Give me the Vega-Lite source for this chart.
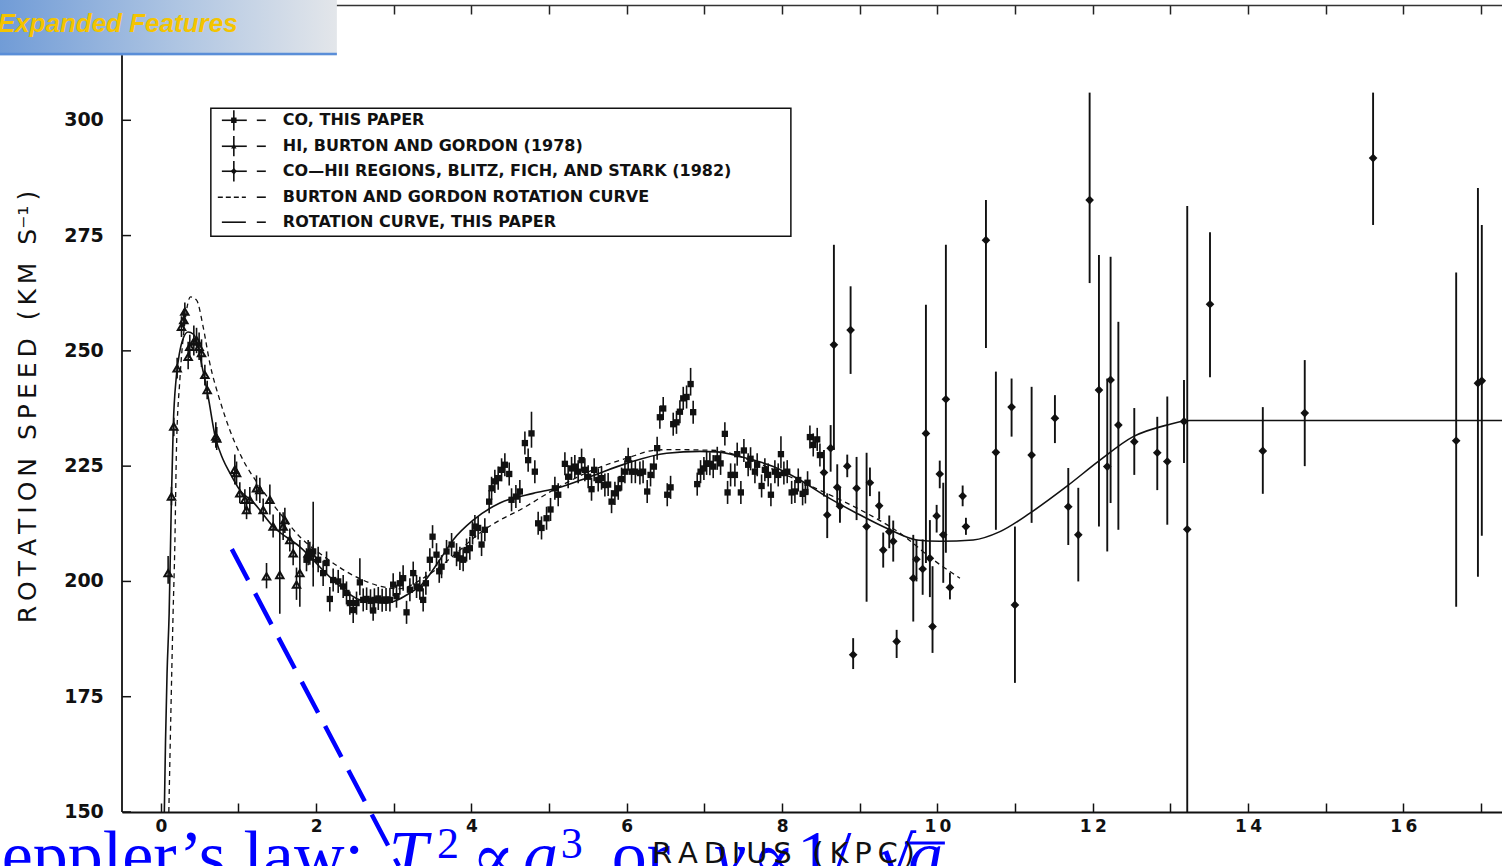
{
  "$schema": "https://vega.github.io/schema/vega-lite/v6.json",
  "width": 1380,
  "height": 807,
  "autosize": {"type": "none"},
  "padding": {"left": 122, "top": 5, "right": 0, "bottom": 54},
  "background": "white",
  "config": {"view": {"stroke": null}},
  "resolve": {"axis": {"x": "independent"}},
  "datasets": {
    "yticks": [{"speed": 150}, {"speed": 175}, {"speed": 200}, {"speed": 225}, {"speed": 250}, {"speed": 275}, {"speed": 300}],
    "solid": [
      {"radius": 0.045, "speed": 150}, {"radius": 0.06, "speed": 165}, {"radius": 0.08, "speed": 180},
      {"radius": 0.107, "speed": 193}, {"radius": 0.137, "speed": 218.4}, {"radius": 0.16, "speed": 233.6},
      {"radius": 0.2, "speed": 244.5}, {"radius": 0.24, "speed": 249.5}, {"radius": 0.29, "speed": 252.8},
      {"radius": 0.35, "speed": 254.1}, {"radius": 0.42, "speed": 253.6}, {"radius": 0.48, "speed": 251},
      {"radius": 0.52, "speed": 247.5}, {"radius": 0.57, "speed": 243.5}, {"radius": 0.61, "speed": 240},
      {"radius": 0.7, "speed": 231.4}, {"radius": 0.8, "speed": 226.5}, {"radius": 0.89, "speed": 223.5},
      {"radius": 1.017, "speed": 219.8}, {"radius": 1.189, "speed": 217.2}, {"radius": 1.446, "speed": 211.9},
      {"radius": 1.79, "speed": 207.5}, {"radius": 2.219, "speed": 200.3}, {"radius": 2.563, "speed": 196},
      {"radius": 2.907, "speed": 195.3}, {"radius": 3.035, "speed": 195.9}, {"radius": 3.207, "speed": 197.5},
      {"radius": 3.335, "speed": 198.9}, {"radius": 3.593, "speed": 204.7}, {"radius": 3.764, "speed": 209},
      {"radius": 4.022, "speed": 213.3}, {"radius": 4.366, "speed": 217}, {"radius": 4.795, "speed": 219.1},
      {"radius": 5.096, "speed": 220.2}, {"radius": 5.525, "speed": 222.7}, {"radius": 5.997, "speed": 225.6},
      {"radius": 6.513, "speed": 227.8}, {"radius": 6.942, "speed": 228.2}, {"radius": 7.156, "speed": 228.1},
      {"radius": 7.457, "speed": 227.1}, {"radius": 7.886, "speed": 224.9}, {"radius": 8.229, "speed": 222},
      {"radius": 8.573, "speed": 218.4}, {"radius": 8.959, "speed": 214.8}, {"radius": 9.388, "speed": 211.2},
      {"radius": 9.732, "speed": 209}, {"radius": 10.032, "speed": 208.7}, {"radius": 10.461, "speed": 209},
      {"radius": 10.805, "speed": 210.8}, {"radius": 11.191, "speed": 214.8}, {"radius": 11.664, "speed": 220.6},
      {"radius": 12.093, "speed": 226.3}, {"radius": 12.521, "speed": 231.4}, {"radius": 12.951, "speed": 233.9},
      {"radius": 13.25, "speed": 234.9}, {"radius": 17.27, "speed": 234.9}
    ],
    "dashed": [
      {"radius": 0.103, "speed": 150}, {"radius": 0.13, "speed": 172}, {"radius": 0.158, "speed": 193.2},
      {"radius": 0.18, "speed": 207.6}, {"radius": 0.202, "speed": 229.2}, {"radius": 0.245, "speed": 243.7},
      {"radius": 0.309, "speed": 256}, {"radius": 0.382, "speed": 261.7}, {"radius": 0.46, "speed": 261},
      {"radius": 0.545, "speed": 255.2}, {"radius": 0.631, "speed": 247.3}, {"radius": 0.76, "speed": 239.3},
      {"radius": 0.889, "speed": 232.8}, {"radius": 1.06, "speed": 226.3}, {"radius": 1.275, "speed": 220.6},
      {"radius": 1.533, "speed": 214.8}, {"radius": 1.79, "speed": 209.7}, {"radius": 2.134, "speed": 205},
      {"radius": 2.477, "speed": 201.3}, {"radius": 2.82, "speed": 199}, {"radius": 3.05, "speed": 198.4},
      {"radius": 3.2, "speed": 199}, {"radius": 3.35, "speed": 200.4}, {"radius": 3.593, "speed": 203.2},
      {"radius": 3.851, "speed": 206.8}, {"radius": 4.108, "speed": 210.5}, {"radius": 4.366, "speed": 213.3},
      {"radius": 4.623, "speed": 215.5}, {"radius": 5.052, "speed": 219.8}, {"radius": 5.567, "speed": 224.2},
      {"radius": 5.997, "speed": 226.7}, {"radius": 6.384, "speed": 228.5}, {"radius": 6.6, "speed": 228.6},
      {"radius": 6.942, "speed": 228.5}, {"radius": 7.156, "speed": 228.4}, {"radius": 7.585, "speed": 226.3},
      {"radius": 8.1, "speed": 222.7}, {"radius": 8.573, "speed": 219.1}, {"radius": 9.088, "speed": 214.8},
      {"radius": 9.517, "speed": 210.5}, {"radius": 9.946, "speed": 204.7}, {"radius": 10.29, "speed": 200.7}
    ],
    "co": [
      {"radius": 1.876, "speed": 204.7, "low": 202.2, "high": 207.2}, {"radius": 1.919, "speed": 206.1, "low": 203.6, "high": 208.6},
      {"radius": 1.962, "speed": 206.5, "low": 198.9, "high": 217.3}, {"radius": 2.026, "speed": 204.7, "low": 202.0, "high": 207.5},
      {"radius": 2.09, "speed": 201.8, "low": 199.0, "high": 204.5}, {"radius": 2.134, "speed": 204.0, "low": 201.5, "high": 206.5},
      {"radius": 2.176, "speed": 196.2, "low": 193.5, "high": 198.8}, {"radius": 2.219, "speed": 200.3, "low": 197.8, "high": 202.8},
      {"radius": 2.284, "speed": 200.0, "low": 197.5, "high": 202.5}, {"radius": 2.348, "speed": 198.9, "low": 196.4, "high": 201.4},
      {"radius": 2.391, "speed": 197.5, "low": 195.0, "high": 200.0}, {"radius": 2.434, "speed": 195.3, "low": 192.8, "high": 197.8},
      {"radius": 2.477, "speed": 193.8, "low": 191.0, "high": 196.5}, {"radius": 2.52, "speed": 195.3, "low": 192.8, "high": 197.8},
      {"radius": 2.563, "speed": 199.8, "low": 197.0, "high": 205.0}, {"radius": 2.606, "speed": 196.0, "low": 193.5, "high": 198.5},
      {"radius": 2.65, "speed": 196.2, "low": 193.8, "high": 198.7}, {"radius": 2.7, "speed": 195.8, "low": 193.3, "high": 198.3},
      {"radius": 2.734, "speed": 193.7, "low": 191.5, "high": 196.0}, {"radius": 2.75, "speed": 196.0, "low": 193.5, "high": 198.5},
      {"radius": 2.8, "speed": 196.3, "low": 193.8, "high": 198.8}, {"radius": 2.85, "speed": 195.9, "low": 193.4, "high": 198.4},
      {"radius": 2.9, "speed": 196.1, "low": 193.6, "high": 198.6}, {"radius": 2.95, "speed": 196.0, "low": 193.5, "high": 198.5},
      {"radius": 2.992, "speed": 199.3, "low": 196.8, "high": 201.8}, {"radius": 3.035, "speed": 196.8, "low": 194.3, "high": 199.3},
      {"radius": 3.078, "speed": 199.6, "low": 197.1, "high": 202.1}, {"radius": 3.12, "speed": 200.7, "low": 198.0, "high": 203.5},
      {"radius": 3.164, "speed": 193.3, "low": 190.8, "high": 195.8}, {"radius": 3.207, "speed": 198.2, "low": 195.7, "high": 200.7},
      {"radius": 3.25, "speed": 201.8, "low": 199.3, "high": 204.3}, {"radius": 3.293, "speed": 198.9, "low": 196.4, "high": 201.4},
      {"radius": 3.335, "speed": 198.5, "low": 196.0, "high": 201.0}, {"radius": 3.378, "speed": 196.0, "low": 193.5, "high": 198.5},
      {"radius": 3.413, "speed": 199.6, "low": 197.1, "high": 202.1}, {"radius": 3.464, "speed": 204.7, "low": 202.2, "high": 207.2},
      {"radius": 3.499, "speed": 209.7, "low": 207.2, "high": 212.2}, {"radius": 3.55, "speed": 205.8, "low": 203.3, "high": 208.3},
      {"radius": 3.585, "speed": 202.2, "low": 199.7, "high": 204.7}, {"radius": 3.615, "speed": 203.2, "low": 200.7, "high": 205.7},
      {"radius": 3.679, "speed": 206.5, "low": 204.0, "high": 209.0}, {"radius": 3.744, "speed": 208.0, "low": 205.5, "high": 210.5},
      {"radius": 3.808, "speed": 205.8, "low": 203.3, "high": 208.3}, {"radius": 3.851, "speed": 205.0, "low": 202.5, "high": 207.5},
      {"radius": 3.893, "speed": 204.7, "low": 202.2, "high": 207.2}, {"radius": 3.937, "speed": 206.8, "low": 204.3, "high": 209.3},
      {"radius": 3.979, "speed": 207.2, "low": 204.7, "high": 209.7}, {"radius": 4.014, "speed": 210.5, "low": 208.0, "high": 213.0},
      {"radius": 4.044, "speed": 211.9, "low": 209.4, "high": 214.4}, {"radius": 4.086, "speed": 211.6, "low": 209.1, "high": 214.1},
      {"radius": 4.13, "speed": 208.0, "low": 205.5, "high": 210.5}, {"radius": 4.172, "speed": 211.2, "low": 208.7, "high": 213.7},
      {"radius": 4.228, "speed": 217.3, "low": 214.8, "high": 219.8}, {"radius": 4.259, "speed": 220.2, "low": 217.7, "high": 222.7},
      {"radius": 4.301, "speed": 221.7, "low": 219.2, "high": 224.2}, {"radius": 4.344, "speed": 222.4, "low": 219.9, "high": 224.9},
      {"radius": 4.388, "speed": 224.2, "low": 221.7, "high": 226.7}, {"radius": 4.43, "speed": 225.3, "low": 222.8, "high": 227.8},
      {"radius": 4.486, "speed": 223.3, "low": 220.8, "high": 225.8}, {"radius": 4.516, "speed": 217.7, "low": 215.2, "high": 220.2},
      {"radius": 4.572, "speed": 218.4, "low": 215.9, "high": 220.9}, {"radius": 4.623, "speed": 219.5, "low": 217.0, "high": 222.0},
      {"radius": 4.688, "speed": 230.0, "low": 227.5, "high": 232.5}, {"radius": 4.73, "speed": 226.3, "low": 223.8, "high": 228.8},
      {"radius": 4.773, "speed": 232.1, "low": 229.0, "high": 236.8}, {"radius": 4.816, "speed": 223.8, "low": 221.3, "high": 226.3},
      {"radius": 4.859, "speed": 212.6, "low": 210.1, "high": 215.1}, {"radius": 4.902, "speed": 211.6, "low": 209.1, "high": 214.1},
      {"radius": 4.967, "speed": 213.7, "low": 211.2, "high": 216.2}, {"radius": 5.018, "speed": 215.6, "low": 213.1, "high": 218.1},
      {"radius": 5.074, "speed": 220.2, "low": 217.7, "high": 222.7}, {"radius": 5.117, "speed": 218.8, "low": 216.3, "high": 221.3},
      {"radius": 5.203, "speed": 225.5, "low": 223.0, "high": 228.0}, {"radius": 5.245, "speed": 222.7, "low": 220.2, "high": 225.2},
      {"radius": 5.289, "speed": 224.5, "low": 222.0, "high": 227.0}, {"radius": 5.331, "speed": 224.9, "low": 222.4, "high": 227.4},
      {"radius": 5.374, "speed": 223.8, "low": 221.3, "high": 226.3}, {"radius": 5.418, "speed": 226.3, "low": 223.8, "high": 228.8},
      {"radius": 5.46, "speed": 224.2, "low": 221.7, "high": 226.7}, {"radius": 5.503, "speed": 222.7, "low": 220.2, "high": 225.2},
      {"radius": 5.546, "speed": 220.0, "low": 217.5, "high": 222.5}, {"radius": 5.58, "speed": 224.2, "low": 221.7, "high": 226.7},
      {"radius": 5.632, "speed": 222.0, "low": 219.5, "high": 224.5}, {"radius": 5.675, "speed": 222.4, "low": 219.9, "high": 224.9},
      {"radius": 5.718, "speed": 220.9, "low": 218.4, "high": 223.4}, {"radius": 5.76, "speed": 221.0, "low": 218.5, "high": 223.5},
      {"radius": 5.804, "speed": 217.3, "low": 214.8, "high": 219.8}, {"radius": 5.847, "speed": 219.1, "low": 216.6, "high": 221.6},
      {"radius": 5.89, "speed": 220.2, "low": 217.7, "high": 222.7}, {"radius": 5.933, "speed": 222.2, "low": 219.7, "high": 224.7},
      {"radius": 5.976, "speed": 223.8, "low": 221.3, "high": 226.3}, {"radius": 6.018, "speed": 226.5, "low": 224.0, "high": 229.0},
      {"radius": 6.062, "speed": 223.8, "low": 221.3, "high": 226.3}, {"radius": 6.11, "speed": 223.8, "low": 221.3, "high": 226.3},
      {"radius": 6.169, "speed": 223.5, "low": 221.0, "high": 226.0}, {"radius": 6.21, "speed": 223.8, "low": 221.3, "high": 226.3},
      {"radius": 6.263, "speed": 219.5, "low": 217.0, "high": 222.0}, {"radius": 6.306, "speed": 223.1, "low": 220.6, "high": 225.6},
      {"radius": 6.349, "speed": 224.9, "low": 222.4, "high": 227.4}, {"radius": 6.391, "speed": 228.9, "low": 226.4, "high": 231.4},
      {"radius": 6.426, "speed": 235.6, "low": 233.1, "high": 238.1}, {"radius": 6.469, "speed": 237.5, "low": 235.0, "high": 240.0},
      {"radius": 6.521, "speed": 218.8, "low": 216.3, "high": 221.3}, {"radius": 6.564, "speed": 220.4, "low": 217.9, "high": 222.9},
      {"radius": 6.598, "speed": 234.1, "low": 231.6, "high": 236.6}, {"radius": 6.64, "speed": 234.5, "low": 232.0, "high": 237.0},
      {"radius": 6.684, "speed": 236.8, "low": 234.3, "high": 239.3}, {"radius": 6.727, "speed": 239.7, "low": 237.2, "high": 242.2},
      {"radius": 6.77, "speed": 240.0, "low": 237.5, "high": 242.5}, {"radius": 6.822, "speed": 242.8, "low": 240.3, "high": 246.3},
      {"radius": 6.855, "speed": 236.7, "low": 234.2, "high": 239.2}, {"radius": 6.907, "speed": 221.1, "low": 218.6, "high": 223.6},
      {"radius": 6.95, "speed": 223.8, "low": 221.3, "high": 226.3}, {"radius": 6.993, "speed": 224.5, "low": 222.0, "high": 227.0},
      {"radius": 7.028, "speed": 225.6, "low": 223.1, "high": 228.1}, {"radius": 7.07, "speed": 225.5, "low": 223.0, "high": 228.0},
      {"radius": 7.113, "speed": 224.9, "low": 222.4, "high": 227.4}, {"radius": 7.165, "speed": 226.7, "low": 224.2, "high": 229.2},
      {"radius": 7.208, "speed": 225.6, "low": 223.1, "high": 228.1}, {"radius": 7.263, "speed": 232.0, "low": 229.5, "high": 234.5},
      {"radius": 7.298, "speed": 219.3, "low": 216.8, "high": 221.8}, {"radius": 7.337, "speed": 223.1, "low": 220.6, "high": 225.6},
      {"radius": 7.392, "speed": 223.1, "low": 220.6, "high": 225.6}, {"radius": 7.422, "speed": 227.6, "low": 225.1, "high": 230.1},
      {"radius": 7.469, "speed": 219.3, "low": 216.8, "high": 221.8}, {"radius": 7.508, "speed": 228.4, "low": 225.9, "high": 230.9},
      {"radius": 7.563, "speed": 225.3, "low": 222.8, "high": 227.8}, {"radius": 7.594, "speed": 226.6, "low": 224.1, "high": 229.1},
      {"radius": 7.65, "speed": 223.8, "low": 221.3, "high": 226.3}, {"radius": 7.679, "speed": 225.3, "low": 222.8, "high": 227.8},
      {"radius": 7.736, "speed": 220.7, "low": 218.2, "high": 223.2}, {"radius": 7.778, "speed": 224.2, "low": 221.7, "high": 226.7},
      {"radius": 7.821, "speed": 223.1, "low": 220.6, "high": 225.6}, {"radius": 7.856, "speed": 218.8, "low": 216.3, "high": 221.3},
      {"radius": 7.907, "speed": 223.8, "low": 221.3, "high": 226.3}, {"radius": 7.95, "speed": 223.1, "low": 220.6, "high": 225.6},
      {"radius": 7.985, "speed": 227.6, "low": 224.5, "high": 231.5}, {"radius": 8.023, "speed": 223.5, "low": 221.0, "high": 226.0},
      {"radius": 8.066, "speed": 223.8, "low": 221.3, "high": 226.3}, {"radius": 8.123, "speed": 219.3, "low": 216.8, "high": 221.8},
      {"radius": 8.165, "speed": 219.5, "low": 217.0, "high": 222.0}, {"radius": 8.208, "speed": 222.0, "low": 219.5, "high": 224.5},
      {"radius": 8.264, "speed": 219.0, "low": 216.5, "high": 221.5}, {"radius": 8.3, "speed": 219.4, "low": 216.9, "high": 221.9},
      {"radius": 8.328, "speed": 221.4, "low": 218.9, "high": 223.9}, {"radius": 8.358, "speed": 231.3, "low": 228.8, "high": 233.8},
      {"radius": 8.401, "speed": 229.6, "low": 227.1, "high": 232.1}, {"radius": 8.452, "speed": 230.8, "low": 228.3, "high": 233.3},
      {"radius": 8.487, "speed": 227.4, "low": 224.9, "high": 229.9}
    ],
    "hi": [
      {"radius": 0.094, "speed": 201.8, "low": 199.5, "high": 205.5}, {"radius": 0.137, "speed": 218.4, "low": 216.5, "high": 220.5},
      {"radius": 0.167, "speed": 233.6, "low": 231.5, "high": 235.5}, {"radius": 0.21, "speed": 246.2, "low": 244.0, "high": 248.5},
      {"radius": 0.266, "speed": 255.2, "low": 253.0, "high": 257.5}, {"radius": 0.296, "speed": 256.7, "low": 254.5, "high": 259.0},
      {"radius": 0.309, "speed": 258.5, "low": 256.0, "high": 260.5}, {"radius": 0.352, "speed": 248.7, "low": 246.0, "high": 252.0},
      {"radius": 0.373, "speed": 250.9, "low": 248.5, "high": 253.5}, {"radius": 0.425, "speed": 252.0, "low": 249.0, "high": 255.5},
      {"radius": 0.46, "speed": 252.3, "low": 249.5, "high": 255.0}, {"radius": 0.493, "speed": 250.9, "low": 248.0, "high": 254.0},
      {"radius": 0.524, "speed": 249.5, "low": 246.5, "high": 252.5}, {"radius": 0.567, "speed": 244.8, "low": 242.5, "high": 247.0},
      {"radius": 0.597, "speed": 241.5, "low": 239.5, "high": 243.5}, {"radius": 0.708, "speed": 231.4, "low": 229.0, "high": 234.5},
      {"radius": 0.72, "speed": 231.0, "low": 228.5, "high": 233.5}, {"radius": 0.953, "speed": 224.2, "low": 221.0, "high": 227.5},
      {"radius": 0.975, "speed": 223.5, "low": 221.0, "high": 226.0}, {"radius": 1.017, "speed": 219.1, "low": 217.0, "high": 221.5},
      {"radius": 1.082, "speed": 217.7, "low": 215.5, "high": 220.0}, {"radius": 1.104, "speed": 215.5, "low": 213.5, "high": 217.5},
      {"radius": 1.146, "speed": 217.7, "low": 215.0, "high": 220.5}, {"radius": 1.232, "speed": 220.2, "low": 217.5, "high": 223.0},
      {"radius": 1.275, "speed": 219.8, "low": 217.0, "high": 222.5}, {"radius": 1.318, "speed": 215.5, "low": 213.0, "high": 218.0},
      {"radius": 1.404, "speed": 217.7, "low": 214.5, "high": 221.0}, {"radius": 1.446, "speed": 211.9, "low": 209.5, "high": 214.5},
      {"radius": 1.575, "speed": 211.9, "low": 209.0, "high": 215.0}, {"radius": 1.597, "speed": 213.3, "low": 210.5, "high": 216.0},
      {"radius": 1.661, "speed": 209.0, "low": 206.5, "high": 211.5}, {"radius": 1.704, "speed": 206.1, "low": 203.5, "high": 208.5},
      {"radius": 1.361, "speed": 201.1, "low": 198.5, "high": 204.0}, {"radius": 1.532, "speed": 201.4, "low": 193.0, "high": 215.0},
      {"radius": 1.747, "speed": 199.3, "low": 196.0, "high": 203.0}, {"radius": 1.79, "speed": 201.8, "low": 194.5, "high": 209.0},
      {"radius": 1.897, "speed": 206.1, "low": 203.5, "high": 209.0}, {"radius": 1.962, "speed": 205.4, "low": 203.0, "high": 208.0}
    ],
    "hii": [
      {"radius": 8.539, "speed": 223.6, "low": 218.4, "high": 228.5}, {"radius": 8.581, "speed": 214.4, "low": 209.4, "high": 219.1},
      {"radius": 8.625, "speed": 228.9, "low": 223.8, "high": 233.9}, {"radius": 8.667, "speed": 251.3, "low": 228.5, "high": 273.0},
      {"radius": 8.71, "speed": 220.4, "low": 216.5, "high": 225.4}, {"radius": 8.745, "speed": 216.3, "low": 212.7, "high": 220.3},
      {"radius": 8.839, "speed": 225.0, "low": 222.6, "high": 227.5}, {"radius": 8.882, "speed": 254.5, "low": 245.0, "high": 264.0},
      {"radius": 8.915, "speed": 184.1, "low": 181.0, "high": 187.7}, {"radius": 8.959, "speed": 220.2, "low": 213.3, "high": 227.0},
      {"radius": 9.088, "speed": 211.9, "low": 195.6, "high": 227.9}, {"radius": 9.131, "speed": 221.4, "low": 218.5, "high": 224.7},
      {"radius": 9.25, "speed": 216.4, "low": 213.5, "high": 219.5}, {"radius": 9.302, "speed": 206.8, "low": 203.0, "high": 210.6},
      {"radius": 9.38, "speed": 210.8, "low": 207.2, "high": 214.3}, {"radius": 9.431, "speed": 208.7, "low": 204.3, "high": 213.2},
      {"radius": 9.475, "speed": 187.0, "low": 183.4, "high": 189.5}, {"radius": 9.689, "speed": 200.7, "low": 191.3, "high": 210.1},
      {"radius": 9.73, "speed": 204.8, "low": 200.0, "high": 209.1}, {"radius": 9.81, "speed": 202.7, "low": 197.1, "high": 209.1},
      {"radius": 9.852, "speed": 232.1, "low": 204.0, "high": 260.0}, {"radius": 9.903, "speed": 205.0, "low": 196.6, "high": 213.3},
      {"radius": 9.937, "speed": 190.2, "low": 184.5, "high": 203.3}, {"radius": 9.99, "speed": 214.2, "low": 210.6, "high": 216.6},
      {"radius": 10.03, "speed": 223.3, "low": 220.2, "high": 226.2}, {"radius": 10.075, "speed": 210.1, "low": 199.7, "high": 221.4},
      {"radius": 10.109, "speed": 239.5, "low": 206.2, "high": 273.0}, {"radius": 10.161, "speed": 198.7, "low": 196.1, "high": 201.9},
      {"radius": 10.325, "speed": 218.5, "low": 216.3, "high": 220.8}, {"radius": 10.367, "speed": 211.9, "low": 210.1, "high": 213.8},
      {"radius": 10.625, "speed": 274.0, "low": 250.6, "high": 282.7}, {"radius": 10.753, "speed": 228.0, "low": 211.2, "high": 245.5},
      {"radius": 10.955, "speed": 237.8, "low": 231.4, "high": 244.0}, {"radius": 10.998, "speed": 194.9, "low": 178.0, "high": 211.9},
      {"radius": 11.213, "speed": 227.4, "low": 212.7, "high": 242.2}, {"radius": 11.513, "speed": 235.4, "low": 230.0, "high": 240.4},
      {"radius": 11.685, "speed": 216.2, "low": 207.9, "high": 224.6}, {"radius": 11.814, "speed": 210.1, "low": 200.0, "high": 220.3},
      {"radius": 11.96, "speed": 282.7, "low": 264.7, "high": 306.0}, {"radius": 12.08, "speed": 241.5, "low": 211.9, "high": 270.8},
      {"radius": 12.187, "speed": 224.9, "low": 206.5, "high": 244.0}, {"radius": 12.23, "speed": 243.7, "low": 217.0, "high": 270.4},
      {"radius": 12.33, "speed": 233.9, "low": 211.2, "high": 256.3}, {"radius": 12.535, "speed": 230.3, "low": 223.1, "high": 237.6},
      {"radius": 12.831, "speed": 227.9, "low": 219.8, "high": 235.7}, {"radius": 12.96, "speed": 226.0, "low": 212.3, "high": 240.1},
      {"radius": 13.175, "speed": 234.7, "low": 225.7, "high": 243.7}, {"radius": 13.217, "speed": 211.3, "low": 150.0, "high": 281.4},
      {"radius": 13.51, "speed": 260.1, "low": 244.3, "high": 275.7}, {"radius": 14.19, "speed": 228.3, "low": 219.0, "high": 237.8},
      {"radius": 14.73, "speed": 236.5, "low": 225.0, "high": 248.0}, {"radius": 15.61, "speed": 291.8, "low": 277.3, "high": 306.0},
      {"radius": 16.68, "speed": 230.5, "low": 194.5, "high": 267.0}, {"radius": 16.96, "speed": 243.0, "low": 201.0, "high": 285.3},
      {"radius": 17.01, "speed": 243.5, "low": 209.9, "high": 277.3}
    ]
  },
  "layer": [
    {
      "data": {"name": "solid"},
      "mark": {"type": "line", "color": "#111", "strokeWidth": 1.6, "interpolate": "monotone"},
      "encoding": {
        "x": {
          "field": "radius", "type": "quantitative",
          "scale": {"domain": [-0.5, 17.27], "nice": false, "zero": false},
          "axis": {
            "orient": "bottom", "zindex": 1, "values": [0, 1, 2, 3, 4, 5, 6, 7, 8, 9, 10, 11, 12, 13, 14, 15, 16, 17],
            "labelExpr": "datum.value % 2 === 0 ? join(split(datum.label, ''), '\u2009') : ''",
            "grid": false, "tickSize": -9, "tickWidth": 1.5, "tickColor": "#111",
            "domainColor": "#111", "domainWidth": 2,
            "labelFont": "DejaVu Sans", "labelFontSize": 17, "labelFontWeight": "bold", "labelColor": "#111",
            "labelPadding": 15, "labelFlush": false, "labelOverlap": false,
            "title": "R\u2009A\u2009D\u2009I\u2009U\u2009S\u2009 \u2009(\u2009K\u2009P\u2009C\u2009)",
            "titleFont": "DejaVu Sans", "titleFontSize": 29, "titleFontWeight": "normal", "titleColor": "#111",
            "titleX": 661, "titleY": 50, "titleBaseline": "alphabetic", "titleAlign": "center"
          }
        },
        "y": {"field": "speed", "type": "quantitative", "scale": {"domain": [150, 325], "nice": false, "zero": false}, "axis": null}
      }
    },
    {
      "data": {"name": "dashed"},
      "mark": {"type": "line", "color": "#111", "strokeWidth": 1.3, "strokeDash": [5, 4], "interpolate": "monotone"},
      "encoding": {
        "x": {
          "field": "radius", "type": "quantitative",
          "scale": {"domain": [-0.5, 17.27], "nice": false, "zero": false},
          "axis": {
            "orient": "top", "values": [0, 1, 2, 3, 4, 5, 6, 7, 8, 9, 10, 11, 12, 13, 14, 15, 16, 17],
            "labels": false, "grid": false, "tickSize": -9, "tickWidth": 1.5, "tickColor": "#222",
            "domainColor": "#333", "domainWidth": 1.5, "title": null
          }
        },
        "y": {"field": "speed", "type": "quantitative", "scale": {"domain": [150, 325], "nice": false, "zero": false}, "axis": null}
      }
    },
    {
      "data": {"name": "yticks"},
      "mark": {"type": "rule", "color": "#111", "strokeWidth": 1.5},
      "encoding": {
        "x": {"datum": -0.5, "type": "quantitative", "scale": {"domain": [-0.5, 17.27], "nice": false, "zero": false}, "axis": null},
        "x2": {"datum": -0.384},
        "y": {"field": "speed", "type": "quantitative", "scale": {"domain": [150, 325], "nice": false, "zero": false}, "axis": null}
      }
    },
    {
      "data": {"name": "yticks"},
      "mark": {"type": "text", "align": "right", "baseline": "middle", "font": "DejaVu Sans", "fontSize": 19, "fontWeight": "bold", "color": "#111"},
      "encoding": {
        "x": {"datum": -0.734, "type": "quantitative", "axis": null},
        "y": {"field": "speed", "type": "quantitative", "axis": null},
        "text": {"field": "speed", "type": "quantitative", "format": "d"}
      }
    },
    {
      "data": {"name": "co"},
      "mark": {"type": "rule", "color": "#111", "strokeWidth": 1.6},
      "encoding": {
        "x": {"field": "radius", "type": "quantitative", "scale": {"domain": [-0.5, 17.27], "nice": false, "zero": false}, "axis": null},
        "y": {"field": "low", "type": "quantitative", "scale": {"domain": [150, 325], "nice": false, "zero": false}, "axis": null},
        "y2": {"field": "high"}
      }
    },
    {
      "data": {"name": "co"},
      "mark": {"type": "point", "shape": "square", "filled": true, "color": "#111", "size": 40, "opacity": 1},
      "encoding": {
        "x": {"field": "radius", "type": "quantitative", "scale": {"domain": [-0.5, 17.27], "nice": false, "zero": false}, "axis": null},
        "y": {"field": "speed", "type": "quantitative", "scale": {"domain": [150, 325], "nice": false, "zero": false}, "axis": null}
      }
    },
    {
      "data": {"name": "hi"},
      "mark": {"type": "rule", "color": "#111", "strokeWidth": 1.6},
      "encoding": {
        "x": {"field": "radius", "type": "quantitative", "scale": {"domain": [-0.5, 17.27], "nice": false, "zero": false}, "axis": null},
        "y": {"field": "low", "type": "quantitative", "scale": {"domain": [150, 325], "nice": false, "zero": false}, "axis": null},
        "y2": {"field": "high"}
      }
    },
    {
      "data": {"name": "hi"},
      "mark": {"type": "point", "shape": "triangle-up", "filled": false, "color": "#111", "strokeWidth": 2, "size": 55, "opacity": 1},
      "encoding": {
        "x": {"field": "radius", "type": "quantitative", "scale": {"domain": [-0.5, 17.27], "nice": false, "zero": false}, "axis": null},
        "y": {"field": "speed", "type": "quantitative", "scale": {"domain": [150, 325], "nice": false, "zero": false}, "axis": null}
      }
    },
    {
      "data": {"name": "hii"},
      "mark": {"type": "rule", "color": "#111", "strokeWidth": 1.9},
      "encoding": {
        "x": {"field": "radius", "type": "quantitative", "scale": {"domain": [-0.5, 17.27], "nice": false, "zero": false}, "axis": null},
        "y": {"field": "low", "type": "quantitative", "scale": {"domain": [150, 325], "nice": false, "zero": false}, "axis": null},
        "y2": {"field": "high"}
      }
    },
    {
      "data": {"name": "hii"},
      "mark": {"type": "point", "shape": "diamond", "filled": true, "color": "#111", "size": 75, "opacity": 1},
      "encoding": {
        "x": {"field": "radius", "type": "quantitative", "scale": {"domain": [-0.5, 17.27], "nice": false, "zero": false}, "axis": null},
        "y": {"field": "speed", "type": "quantitative", "scale": {"domain": [150, 325], "nice": false, "zero": false}, "axis": null}
      }
    },
    {
      "data": {"values": [{}]},
      "layer": [
        {"mark": {"type": "rule", "color": "#111", "strokeWidth": 1.8}, "encoding": {"x": {"datum": -0.5, "type": "quantitative", "axis": null}, "y": {"datum": 150, "type": "quantitative", "axis": null}, "y2": {"datum": 325}}},
        {"mark": {"type": "text", "text": "R\u2009O\u2009T\u2009A\u2009T\u2009I\u2009O\u2009N\u2009 \u2009S\u2009P\u2009E\u2009E\u2009D\u2009 \u2009(\u2009K\u2009M\u2009 \u2009S\u207b\u00b9\u2009)", "angle": 270, "align": "center", "baseline": "middle", "font": "DejaVu Sans", "fontSize": 25, "color": "#111"}, "encoding": {"x": {"datum": -1.713, "type": "quantitative", "axis": null}, "y": {"datum": 237.8, "type": "quantitative", "axis": null}}},
        {
          "mark": {"type": "rect", "fill": "white", "stroke": "#111", "strokeWidth": 1.5},
          "encoding": {
            "x": {"datum": 0.644, "type": "quantitative", "axis": null},
            "x2": {"datum": 8.113},
            "y": {"datum": 302.6, "type": "quantitative", "axis": null},
            "y2": {"datum": 274.85}
          }
        },
        {"mark": {"type": "rule", "color": "#111", "strokeWidth": 1.6}, "encoding": {"x": {"datum": 0.94, "type": "quantitative", "axis": null}, "y": {"datum": 297.8, "type": "quantitative", "axis": null}, "y2": {"datum": 302.2}}},
        {"mark": {"type": "rule", "color": "#111", "strokeWidth": 1.6}, "encoding": {"x": {"datum": 0.786, "type": "quantitative", "axis": null}, "x2": {"datum": 1.107}, "y": {"datum": 300.0, "type": "quantitative", "axis": null}}},
        {"mark": {"type": "point", "shape": "square", "filled": true, "color": "#111", "size": 30, "opacity": 1}, "encoding": {"x": {"datum": 0.94, "type": "quantitative", "axis": null}, "y": {"datum": 300.0, "type": "quantitative", "axis": null}}},
        {"mark": {"type": "rule", "color": "#111", "strokeWidth": 1.6}, "encoding": {"x": {"datum": 0.94, "type": "quantitative", "axis": null}, "y": {"datum": 292.2, "type": "quantitative", "axis": null}, "y2": {"datum": 296.6}}},
        {"mark": {"type": "rule", "color": "#111", "strokeWidth": 1.6}, "encoding": {"x": {"datum": 0.786, "type": "quantitative", "axis": null}, "x2": {"datum": 1.107}, "y": {"datum": 294.37, "type": "quantitative", "axis": null}}},
        {"mark": {"type": "point", "shape": "triangle-up", "filled": true, "color": "#111", "size": 30, "opacity": 1}, "encoding": {"x": {"datum": 0.94, "type": "quantitative", "axis": null}, "y": {"datum": 294.37, "type": "quantitative", "axis": null}}},
        {"mark": {"type": "rule", "color": "#111", "strokeWidth": 1.6}, "encoding": {"x": {"datum": 0.94, "type": "quantitative", "axis": null}, "y": {"datum": 286.75, "type": "quantitative", "axis": null}, "y2": {"datum": 291.15}}},
        {"mark": {"type": "rule", "color": "#111", "strokeWidth": 1.6}, "encoding": {"x": {"datum": 0.786, "type": "quantitative", "axis": null}, "x2": {"datum": 1.107}, "y": {"datum": 288.95, "type": "quantitative", "axis": null}}},
        {"mark": {"type": "point", "shape": "diamond", "filled": true, "color": "#111", "size": 40, "opacity": 1}, "encoding": {"x": {"datum": 0.94, "type": "quantitative", "axis": null}, "y": {"datum": 288.95, "type": "quantitative", "axis": null}}},
        {"mark": {"type": "rule", "color": "#111", "strokeWidth": 1.4, "strokeDash": [5, 3]}, "encoding": {"x": {"datum": 0.734, "type": "quantitative", "axis": null}, "x2": {"datum": 1.095}, "y": {"datum": 283.32, "type": "quantitative", "axis": null}}},
        {"mark": {"type": "rule", "color": "#111", "strokeWidth": 1.6}, "encoding": {"x": {"datum": 0.786, "type": "quantitative", "axis": null}, "x2": {"datum": 1.095}, "y": {"datum": 277.9, "type": "quantitative", "axis": null}}},
        {"mark": {"type": "rule", "color": "#111", "strokeWidth": 1.6}, "encoding": {"x": {"datum": 1.236, "type": "quantitative", "axis": null}, "x2": {"datum": 1.352}, "y": {"datum": 300.0, "type": "quantitative", "axis": null}}},
        {"mark": {"type": "rule", "color": "#111", "strokeWidth": 1.6}, "encoding": {"x": {"datum": 1.236, "type": "quantitative", "axis": null}, "x2": {"datum": 1.352}, "y": {"datum": 294.37, "type": "quantitative", "axis": null}}},
        {"mark": {"type": "rule", "color": "#111", "strokeWidth": 1.6}, "encoding": {"x": {"datum": 1.236, "type": "quantitative", "axis": null}, "x2": {"datum": 1.352}, "y": {"datum": 288.95, "type": "quantitative", "axis": null}}},
        {"mark": {"type": "rule", "color": "#111", "strokeWidth": 1.6}, "encoding": {"x": {"datum": 1.236, "type": "quantitative", "axis": null}, "x2": {"datum": 1.352}, "y": {"datum": 283.32, "type": "quantitative", "axis": null}}},
        {"mark": {"type": "rule", "color": "#111", "strokeWidth": 1.6}, "encoding": {"x": {"datum": 1.236, "type": "quantitative", "axis": null}, "x2": {"datum": 1.352}, "y": {"datum": 277.9, "type": "quantitative", "axis": null}}},
        {"mark": {"type": "text", "text": "CO, THIS PAPER", "align": "left", "baseline": "middle", "font": "DejaVu Sans", "fontSize": 16, "fontWeight": "bold", "color": "#111"}, "encoding": {"x": {"datum": 1.571, "type": "quantitative", "axis": null}, "y": {"datum": 300.0, "type": "quantitative", "axis": null}}},
        {"mark": {"type": "text", "text": "HI, BURTON AND GORDON (1978)", "align": "left", "baseline": "middle", "font": "DejaVu Sans", "fontSize": 16, "fontWeight": "bold", "color": "#111"}, "encoding": {"x": {"datum": 1.571, "type": "quantitative", "axis": null}, "y": {"datum": 294.37, "type": "quantitative", "axis": null}}},
        {"mark": {"type": "text", "text": "CO—HII REGIONS, BLITZ, FICH, AND STARK (1982)", "align": "left", "baseline": "middle", "font": "DejaVu Sans", "fontSize": 16, "fontWeight": "bold", "color": "#111"}, "encoding": {"x": {"datum": 1.571, "type": "quantitative", "axis": null}, "y": {"datum": 288.95, "type": "quantitative", "axis": null}}},
        {"mark": {"type": "text", "text": "BURTON AND GORDON ROTATION CURVE", "align": "left", "baseline": "middle", "font": "DejaVu Sans", "fontSize": 16, "fontWeight": "bold", "color": "#111"}, "encoding": {"x": {"datum": 1.571, "type": "quantitative", "axis": null}, "y": {"datum": 283.32, "type": "quantitative", "axis": null}}},
        {"mark": {"type": "text", "text": "ROTATION CURVE, THIS PAPER", "align": "left", "baseline": "middle", "font": "DejaVu Sans", "fontSize": 16, "fontWeight": "bold", "color": "#111"}, "encoding": {"x": {"datum": 1.571, "type": "quantitative", "axis": null}, "y": {"datum": 277.9, "type": "quantitative", "axis": null}}},
        {"mark": {"type": "rule", "color": "#0000ff", "strokeWidth": 4.5, "strokeDash": [35, 15]}, "encoding": {"x": {"datum": 0.914, "type": "quantitative", "axis": null}, "y": {"datum": 207.0, "type": "quantitative", "axis": null}, "x2": {"datum": 3.065}, "y2": {"datum": 138.3}}},
        {
          "mark": {"type": "rect", "fill": {"gradient": "linear", "x1": 0, "y1": 0, "x2": 1, "y2": 0, "stops": [{"offset": 0, "color": "#6896d5"}, {"offset": 0.55, "color": "#adc4e2"}, {"offset": 1, "color": "#e3e6ea"}]}},
          "encoding": {"x": {"datum": -2.4, "type": "quantitative", "axis": null}, "x2": {"datum": 2.267}, "y": {"datum": 314.08, "type": "quantitative", "axis": null}, "y2": {"datum": 328}}
        },
        {"mark": {"type": "rule", "color": "#5a8ed8", "strokeWidth": 2.5}, "encoding": {"x": {"datum": -2.4, "type": "quantitative", "axis": null}, "x2": {"datum": 2.267}, "y": {"datum": 314.4, "type": "quantitative", "axis": null}}},
        {"mark": {"type": "text", "text": "Expanded Features", "align": "left", "baseline": "alphabetic", "font": "Liberation Sans", "fontSize": 26, "fontWeight": "bold", "fontStyle": "italic", "color": "#f4c400"}, "encoding": {"x": {"datum": -2.1, "type": "quantitative", "axis": null}, "y": {"datum": 319.08, "type": "quantitative", "axis": null}}},
        {"mark": {"type": "text", "text": "Keppler’s law:", "align": "left", "baseline": "alphabetic", "font": "Liberation Serif", "fontSize": 70, "color": "#0000ff"}, "encoding": {"x": {"datum": -2.7, "type": "quantitative", "axis": null}, "y": {"datum": 135.46, "type": "quantitative", "axis": null}}},
        {"mark": {"type": "text", "text": "T", "align": "left", "baseline": "alphabetic", "font": "Liberation Serif", "fontStyle": "italic", "fontSize": 70, "color": "#0000ff"}, "encoding": {"x": {"datum": 2.936, "type": "quantitative", "axis": null}, "y": {"datum": 135.46, "type": "quantitative", "axis": null}}},
        {"mark": {"type": "text", "text": "2", "align": "left", "baseline": "alphabetic", "font": "Liberation Serif", "fontSize": 44, "color": "#0000ff"}, "encoding": {"x": {"datum": 3.555, "type": "quantitative", "axis": null}, "y": {"datum": 140.0, "type": "quantitative", "axis": null}}},
        {"mark": {"type": "text", "text": "∝", "align": "left", "baseline": "alphabetic", "font": "DejaVu Serif", "fontSize": 64, "color": "#0000ff"}, "encoding": {"x": {"datum": 4.005, "type": "quantitative", "axis": null}, "y": {"datum": 135.46, "type": "quantitative", "axis": null}}},
        {"mark": {"type": "text", "text": "a", "align": "left", "baseline": "alphabetic", "font": "Liberation Serif", "fontStyle": "italic", "fontSize": 70, "color": "#0000ff"}, "encoding": {"x": {"datum": 4.662, "type": "quantitative", "axis": null}, "y": {"datum": 135.46, "type": "quantitative", "axis": null}}},
        {"mark": {"type": "text", "text": "3", "align": "left", "baseline": "alphabetic", "font": "Liberation Serif", "fontSize": 44, "color": "#0000ff"}, "encoding": {"x": {"datum": 5.151, "type": "quantitative", "axis": null}, "y": {"datum": 140.0, "type": "quantitative", "axis": null}}},
        {"mark": {"type": "text", "text": "or", "align": "left", "baseline": "alphabetic", "font": "Liberation Serif", "fontSize": 70, "color": "#0000ff"}, "encoding": {"x": {"datum": 5.808, "type": "quantitative", "axis": null}, "y": {"datum": 135.46, "type": "quantitative", "axis": null}}},
        {"mark": {"type": "text", "text": "v", "align": "left", "baseline": "alphabetic", "font": "Liberation Serif", "fontStyle": "italic", "fontSize": 70, "color": "#0000ff"}, "encoding": {"x": {"datum": 7.122, "type": "quantitative", "axis": null}, "y": {"datum": 135.46, "type": "quantitative", "axis": null}}},
        {"mark": {"type": "text", "text": "∝", "align": "left", "baseline": "alphabetic", "font": "DejaVu Serif", "fontSize": 64, "color": "#0000ff"}, "encoding": {"x": {"datum": 7.611, "type": "quantitative", "axis": null}, "y": {"datum": 135.46, "type": "quantitative", "axis": null}}},
        {"mark": {"type": "text", "text": "1/", "align": "left", "baseline": "alphabetic", "font": "Liberation Serif", "fontSize": 70, "color": "#0000ff"}, "encoding": {"x": {"datum": 8.191, "type": "quantitative", "axis": null}, "y": {"datum": 135.46, "type": "quantitative", "axis": null}}},
        {"mark": {"type": "text", "text": "√", "align": "left", "baseline": "alphabetic", "font": "DejaVu Serif", "fontSize": 60, "color": "#0000ff"}, "encoding": {"x": {"datum": 9.234, "type": "quantitative", "axis": null}, "y": {"datum": 135.46, "type": "quantitative", "axis": null}}},
        {"mark": {"type": "text", "text": "a", "align": "left", "baseline": "alphabetic", "font": "Liberation Serif", "fontStyle": "italic", "fontSize": 70, "color": "#0000ff"}, "encoding": {"x": {"datum": 9.62, "type": "quantitative", "axis": null}, "y": {"datum": 135.46, "type": "quantitative", "axis": null}}},
        {"mark": {"type": "rule", "color": "#0000ff", "strokeWidth": 3}, "encoding": {"x": {"datum": 9.581, "type": "quantitative", "axis": null}, "x2": {"datum": 10.096}, "y": {"datum": 143.27, "type": "quantitative", "axis": null}}}
      ]
    }
  ]
}
